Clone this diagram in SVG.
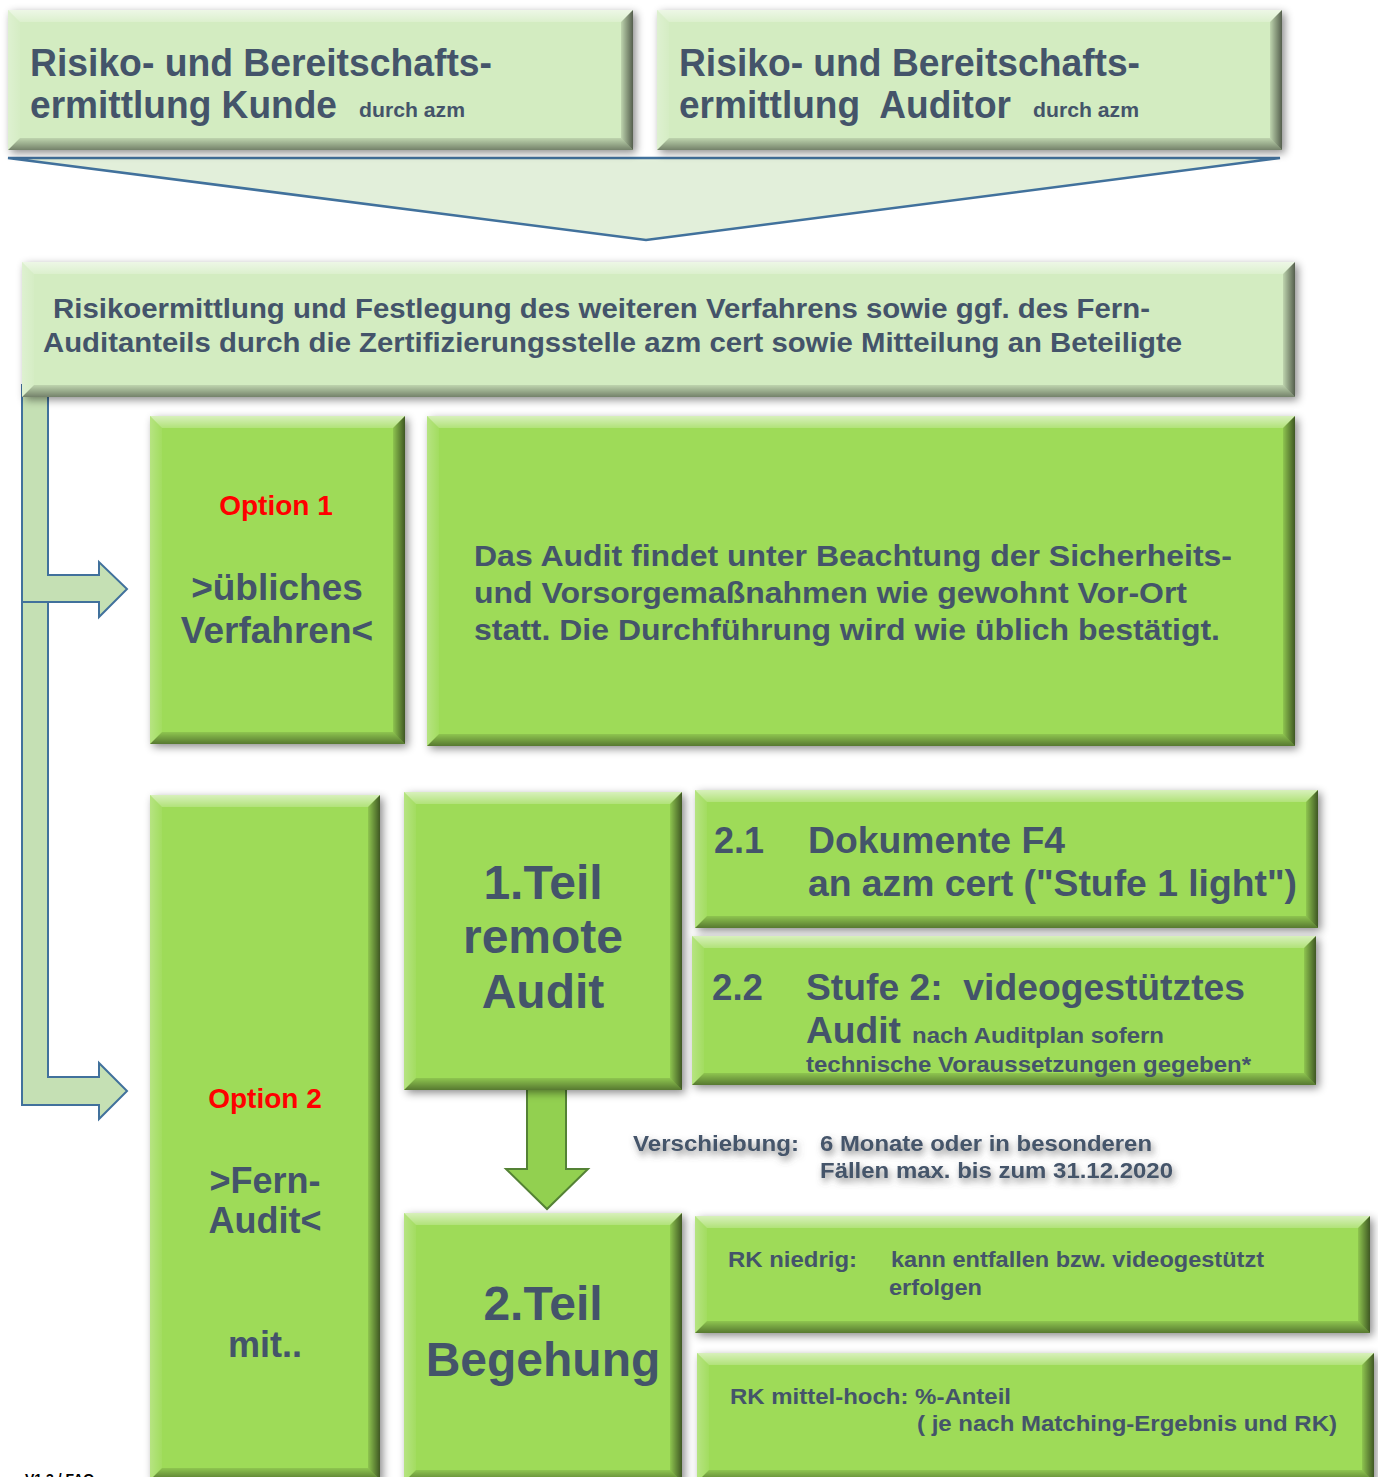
<svg xmlns="http://www.w3.org/2000/svg" width="1378" height="1477" viewBox="0 0 1378 1477">
<defs>
<filter id="sh" x="-10%" y="-10%" width="120%" height="125%"><feDropShadow dx="3" dy="3" stdDeviation="4" flood-color="#000" flood-opacity="0.45"/></filter>
<filter id="glow" x="-10%" y="-40%" width="120%" height="180%"><feDropShadow dx="2" dy="4" stdDeviation="3.5" flood-color="#555" flood-opacity="0.7"/></filter>
<linearGradient id="gT" x1="0" y1="0" x2="0" y2="1"><stop offset="0" stop-color="#fff" stop-opacity="0.6"/><stop offset="1" stop-color="#fff" stop-opacity="0.2"/></linearGradient>
<linearGradient id="gL" x1="0" y1="0" x2="1" y2="0"><stop offset="0" stop-color="#fff" stop-opacity="0.25"/><stop offset="1" stop-color="#fff" stop-opacity="0.05"/></linearGradient>
<linearGradient id="gR" x1="0" y1="0" x2="1" y2="0"><stop offset="0" stop-color="#000" stop-opacity="0.1"/><stop offset="1" stop-color="#000" stop-opacity="0.6"/></linearGradient>
<linearGradient id="gB" x1="0" y1="0" x2="0" y2="1"><stop offset="0" stop-color="#000" stop-opacity="0.1"/><stop offset="1" stop-color="#000" stop-opacity="0.45"/></linearGradient>
</defs>
<style>
.pale{fill:#D3ECC1;filter:url(#sh)}
.bright{fill:#9EDB58;filter:url(#sh)}
.bt{fill:url(#gT)}
.bl{fill:url(#gL)}
.br{fill:url(#gR)}
.bb{fill:url(#gB)}
text{font-family:"Liberation Sans",Arial,sans-serif;font-weight:bold;fill:#44546A}
.red{fill:#FF0000}
.mid{text-anchor:middle}
.conn{fill:#C5E0B4;stroke:#41719C;stroke-width:2}
.funnel{fill:#E2EFDA;stroke:#41719C;stroke-width:2.5}
.down{fill:#92D050;stroke:#548235;stroke-width:2}
</style>

<g id="connectors">
<polygon class="funnel" points="8,158 1280,158 646,240"/>
<path class="conn" d="M48,385 L48,575 L99,575 L99,562 L127,589 L99,617 L99,602 L48,602 L48,1077 L99,1077 L99,1063 L127,1091 L99,1119 L99,1105 L22,1105 L22,385 Z"/>
<line x1="22" y1="602" x2="48" y2="602" stroke="#41719C" stroke-width="2"/>
<polygon class="down" points="527,1088 566,1088 566,1169 588,1169 547,1209 506,1169 527,1169"/>
</g>

<g id="box-kunde">
<rect class="pale" x="8" y="10" width="625" height="140"/>
<polygon class="bt" points="8,10 633,10 621,22 20,22"/>
<polygon class="br" points="633,10 633,150 621,138 621,22"/>
<polygon class="bb" points="8,150 633,150 621,138 20,138"/>
<polygon class="bl" points="8,10 20,22 20,138 8,150"/>
<text x="30" y="76" font-size="38" textLength="462" lengthAdjust="spacingAndGlyphs">Risiko- und Bereitschafts-</text>
<text x="30" y="118" font-size="38" textLength="307" lengthAdjust="spacingAndGlyphs">ermittlung Kunde</text>
<text x="359" y="117" font-size="21" textLength="106" lengthAdjust="spacingAndGlyphs">durch azm</text>
</g>

<g id="box-auditor">
<rect class="pale" x="657" y="10" width="625" height="140"/>
<polygon class="bt" points="657,10 1282,10 1270,22 669,22"/>
<polygon class="br" points="1282,10 1282,150 1270,138 1270,22"/>
<polygon class="bb" points="657,150 1282,150 1270,138 669,138"/>
<polygon class="bl" points="657,10 669,22 669,138 657,150"/>
<text x="679" y="76" font-size="38" textLength="461" lengthAdjust="spacingAndGlyphs">Risiko- und Bereitschafts-</text>
<text x="679" y="118" font-size="38" textLength="332" lengthAdjust="spacingAndGlyphs" xml:space="preserve">ermittlung  Auditor</text>
<text x="1033" y="117" font-size="21" textLength="106" lengthAdjust="spacingAndGlyphs">durch azm</text>
</g>

<g id="box-risiko">
<rect class="pale" x="22" y="262" width="1273" height="135"/>
<polygon class="bt" points="22,262 1295,262 1283,274 34,274"/>
<polygon class="br" points="1295,262 1295,397 1283,385 1283,274"/>
<polygon class="bb" points="22,397 1295,397 1283,385 34,385"/>
<polygon class="bl" points="22,262 34,274 34,385 22,397"/>
<text x="53" y="318" font-size="27" textLength="1097" lengthAdjust="spacingAndGlyphs">Risikoermittlung und Festlegung des weiteren Verfahrens sowie ggf. des Fern-</text>
<text x="43" y="352" font-size="27" textLength="1139" lengthAdjust="spacingAndGlyphs">Auditanteils durch die Zertifizierungsstelle azm cert sowie Mitteilung an Beteiligte</text>
</g>

<g id="box-option1">
<rect class="bright" x="150" y="416" width="255" height="328"/>
<polygon class="bt" points="150,416 405,416 393,428 162,428"/>
<polygon class="br" points="405,416 405,744 393,732 393,428"/>
<polygon class="bb" points="150,744 405,744 393,732 162,732"/>
<polygon class="bl" points="150,416 162,428 162,732 150,744"/>
<text class="red mid" x="276" y="515" font-size="28">Option 1</text>
<text class="mid" x="277" y="600" font-size="37">&gt;übliches</text>
<text class="mid" x="277" y="643" font-size="37">Verfahren&lt;</text>
</g>

<g id="box-vorort">
<rect class="bright" x="427" y="416" width="868" height="330"/>
<polygon class="bt" points="427,416 1295,416 1283,428 439,428"/>
<polygon class="br" points="1295,416 1295,746 1283,734 1283,428"/>
<polygon class="bb" points="427,746 1295,746 1283,734 439,734"/>
<polygon class="bl" points="427,416 439,428 439,734 427,746"/>
<text x="474" y="566" font-size="29" textLength="758" lengthAdjust="spacingAndGlyphs">Das Audit findet unter Beachtung der Sicherheits-</text>
<text x="474" y="603" font-size="29" textLength="713" lengthAdjust="spacingAndGlyphs">und Vorsorgemaßnahmen wie gewohnt Vor-Ort</text>
<text x="474" y="640" font-size="29" textLength="746" lengthAdjust="spacingAndGlyphs">statt. Die Durchführung wird wie üblich bestätigt.</text>
</g>

<g id="box-option2">
<rect class="bright" x="150" y="795" width="230" height="685"/>
<polygon class="bt" points="150,795 380,795 368,807 162,807"/>
<polygon class="br" points="380,795 380,1480 368,1468 368,807"/>
<polygon class="bb" points="150,1480 380,1480 368,1468 162,1468"/>
<polygon class="bl" points="150,795 162,807 162,1468 150,1480"/>
<text class="red mid" x="265" y="1108" font-size="28">Option 2</text>
<text class="mid" x="265" y="1193" font-size="36">&gt;Fern-</text>
<text class="mid" x="265" y="1233" font-size="36">Audit&lt;</text>
<text class="mid" x="265" y="1357" font-size="36">mit..</text>
</g>

<g id="box-teil1">
<rect class="bright" x="404" y="792" width="278" height="298"/>
<polygon class="bt" points="404,792 682,792 670,804 416,804"/>
<polygon class="br" points="682,792 682,1090 670,1078 670,804"/>
<polygon class="bb" points="404,1090 682,1090 670,1078 416,1078"/>
<polygon class="bl" points="404,792 416,804 416,1078 404,1090"/>
<text class="mid" x="543" y="899" font-size="48">1.Teil</text>
<text class="mid" x="543" y="953" font-size="48">remote</text>
<text class="mid" x="543" y="1008" font-size="48">Audit</text>
</g>

<g id="box-2-1">
<rect class="bright" x="695" y="790" width="623" height="138"/>
<polygon class="bt" points="695,790 1318,790 1306,802 707,802"/>
<polygon class="br" points="1318,790 1318,928 1306,916 1306,802"/>
<polygon class="bb" points="695,928 1318,928 1306,916 707,916"/>
<polygon class="bl" points="695,790 707,802 707,916 695,928"/>
<text x="714" y="853" font-size="37" textLength="50" lengthAdjust="spacingAndGlyphs">2.1</text>
<text x="808" y="853" font-size="37" textLength="257" lengthAdjust="spacingAndGlyphs">Dokumente F4</text>
<text x="808" y="896" font-size="37" textLength="489" lengthAdjust="spacingAndGlyphs">an azm cert ("Stufe 1 light")</text>
</g>

<g id="box-2-2">
<rect class="bright" x="692" y="936" width="624" height="149"/>
<polygon class="bt" points="692,936 1316,936 1304,948 704,948"/>
<polygon class="br" points="1316,936 1316,1085 1304,1073 1304,948"/>
<polygon class="bb" points="692,1085 1316,1085 1304,1073 704,1073"/>
<polygon class="bl" points="692,936 704,948 704,1073 692,1085"/>
<text x="712" y="1000" font-size="37" textLength="51" lengthAdjust="spacingAndGlyphs">2.2</text>
<text x="806" y="1000" font-size="37" textLength="439" lengthAdjust="spacingAndGlyphs" xml:space="preserve">Stufe 2:  videogestütztes</text>
<text x="806" y="1043" font-size="37" textLength="95" lengthAdjust="spacingAndGlyphs">Audit</text>
<text x="912" y="1043" font-size="22" textLength="252" lengthAdjust="spacingAndGlyphs">nach Auditplan sofern</text>
<text x="806" y="1072" font-size="22" textLength="445" lengthAdjust="spacingAndGlyphs">technische Voraussetzungen gegeben*</text>
</g>

<g id="note-verschiebung" filter="url(#glow)">
<text x="633" y="1151" font-size="22" textLength="166" lengthAdjust="spacingAndGlyphs">Verschiebung:</text>
<text x="820" y="1151" font-size="22" textLength="332" lengthAdjust="spacingAndGlyphs">6 Monate oder in besonderen</text>
<text x="820" y="1178" font-size="22" textLength="353" lengthAdjust="spacingAndGlyphs">Fällen max. bis zum 31.12.2020</text>
</g>

<g id="box-teil2">
<rect class="bright" x="404" y="1213" width="278" height="269"/>
<polygon class="bt" points="404,1213 682,1213 670,1225 416,1225"/>
<polygon class="br" points="682,1213 682,1482 670,1470 670,1225"/>
<polygon class="bb" points="404,1482 682,1482 670,1470 416,1470"/>
<polygon class="bl" points="404,1213 416,1225 416,1470 404,1482"/>
<text class="mid" x="543" y="1320" font-size="48">2.Teil</text>
<text class="mid" x="543" y="1376" font-size="48">Begehung</text>
</g>

<g id="box-rk-niedrig">
<rect class="bright" x="695" y="1216" width="675" height="117"/>
<polygon class="bt" points="695,1216 1370,1216 1358,1228 707,1228"/>
<polygon class="br" points="1370,1216 1370,1333 1358,1321 1358,1228"/>
<polygon class="bb" points="695,1333 1370,1333 1358,1321 707,1321"/>
<polygon class="bl" points="695,1216 707,1228 707,1321 695,1333"/>
<text x="728" y="1267" font-size="22" textLength="129" lengthAdjust="spacingAndGlyphs">RK niedrig:</text>
<text x="891" y="1267" font-size="22" textLength="373" lengthAdjust="spacingAndGlyphs">kann entfallen bzw. videogestützt</text>
<text x="889" y="1295" font-size="22" textLength="93" lengthAdjust="spacingAndGlyphs">erfolgen</text>
</g>

<g id="box-rk-mittel">
<rect class="bright" x="697" y="1353" width="677" height="129"/>
<polygon class="bt" points="697,1353 1374,1353 1362,1365 709,1365"/>
<polygon class="br" points="1374,1353 1374,1482 1362,1470 1362,1365"/>
<polygon class="bb" points="697,1482 1374,1482 1362,1470 709,1470"/>
<polygon class="bl" points="697,1353 709,1365 709,1470 697,1482"/>
<text x="730" y="1404" font-size="22" textLength="281" lengthAdjust="spacingAndGlyphs">RK mittel-hoch: %-Anteil</text>
<text x="917" y="1431" font-size="22" textLength="420" lengthAdjust="spacingAndGlyphs">( je nach Matching-Ergebnis und RK)</text>
</g>

<text x="25" y="1484" font-size="14" style="fill:#000">V1.3 / FAQ</text>
</svg>
